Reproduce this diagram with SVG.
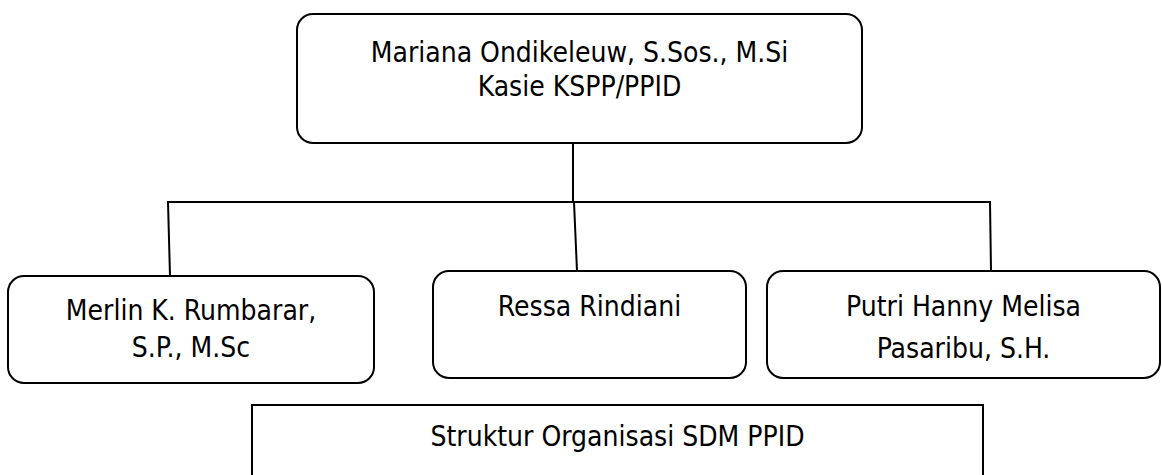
<svg xmlns="http://www.w3.org/2000/svg" width="1162" height="475" viewBox="0 0 1162 475">
<style>
.box{fill:#fff;stroke:#000;stroke-width:2}
.ln{fill:none;stroke:#000;stroke-width:2}
text{font-family:"DejaVu Sans Condensed","DejaVu Sans",sans-serif;font-size:28px;fill:#000;text-anchor:middle}
</style>
<rect width="1162" height="475" fill="#fff"/>
<g id="connectors">
<line class="ln" x1="573" y1="143" x2="573" y2="203"/>
<line class="ln" x1="167" y1="202" x2="991" y2="202"/>
<line class="ln" x1="168" y1="202" x2="170" y2="276"/>
<line class="ln" x1="574" y1="202" x2="577" y2="271"/>
<line class="ln" x1="990" y1="202" x2="991" y2="271"/>
</g>
<g id="top">
<rect class="box" x="297" y="14" width="565" height="129" rx="16"/>
<text x="579.5" y="62">Mariana Ondikeleuw, S.Sos., M.Si</text>
<text x="579.5" y="96">Kasie KSPP/PPID</text>
</g>
<g id="merlin">
<rect class="box" x="8" y="276" width="366" height="107" rx="16"/>
<text x="191" y="320">Merlin K. Rumbarar,</text>
<text x="191" y="357">S.P., M.Sc</text>
</g>
<g id="ressa">
<rect class="box" x="433" y="271" width="313" height="107" rx="16"/>
<text x="589.5" y="316">Ressa Rindiani</text>
</g>
<g id="putri">
<rect class="box" x="767" y="271" width="393" height="107" rx="16"/>
<text x="963.5" y="316">Putri Hanny Melisa</text>
<text x="963.5" y="358">Pasaribu, S.H.</text>
</g>
<g id="caption">
<rect class="box" x="252" y="405" width="731" height="80"/>
<text x="617.5" y="446">Struktur Organisasi SDM PPID</text>
</g>
</svg>
